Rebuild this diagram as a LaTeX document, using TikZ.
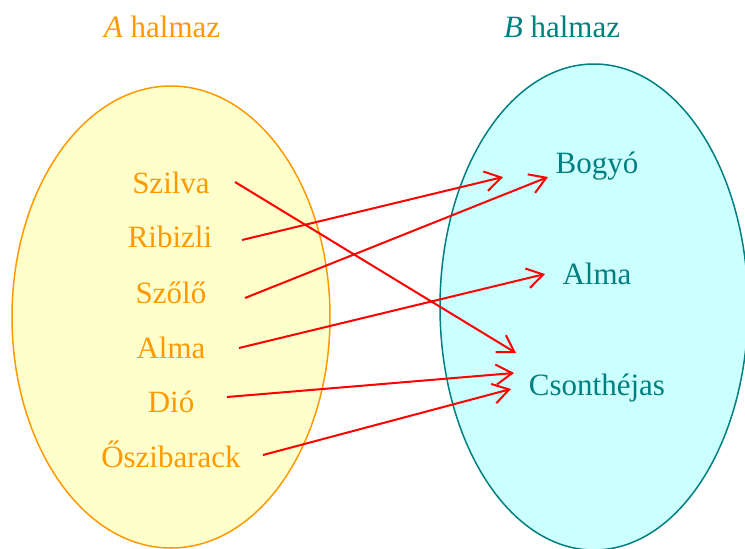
\documentclass[tikz,border=0pt]{standalone}
\usepackage{fontspec}
\setmainfont{Liberation Serif}
\usetikzlibrary{arrows.meta}
\definecolor{setAline}{HTML}{FF9900}
\definecolor{setAfill}{HTML}{FFFFCC}
\definecolor{setBline}{HTML}{008080}
\definecolor{setBfill}{HTML}{CCFFFF}
\definecolor{maparrow}{HTML}{FF0000}
\tikzset{
  atext/.style={text=setAline, font=\fontsize{31}{37}\selectfont, anchor=base, inner sep=0pt},
  btext/.style={text=setBline, font=\fontsize{31}{37}\selectfont, anchor=base, inner sep=0pt},
  setA/.style={draw=setAline, fill=setAfill, line width=1.5pt},
  setB/.style={draw=setBline, fill=setBfill, line width=1.5pt},
  maparr/.style={draw=maparrow, line width=2pt, -{Straight Barb[length=16pt,width=20pt]}}
}
\begin{document}
\begin{tikzpicture}[x=1pt,y=-1pt]
\useasboundingbox (0,0) rectangle (745,549);
\begin{scope}
  \clip (0,0) rectangle (745,549);
  \path[setA] (171,317) ellipse [x radius=159, y radius=231];
  \path[setB] (594,307) ellipse [x radius=154, y radius=243];
\end{scope}

% set titles
\node[atext] (titleA) at (162,37) {\textit{A} halmaz};
\node[btext] (titleB) at (562,37) {\textit{B} halmaz};

% elements of A
\node[atext] (szilva)  at (171,193) {Szilva};
\node[atext] (ribizli) at (170,247) {Ribizli};
\node[atext] (szolo)   at (171,303) {Szőlő};
\node[atext] (almaA)   at (171,358) {Alma};
\node[atext] (dio)     at (171,412) {Dió};
\node[atext] (oszi)    at (171,467) {Őszibarack};

% elements of B
\node[btext] (bogyo)  at (597,173) {Bogyó};
\node[btext] (almaB)  at (597,284) {Alma};
\node[btext] (csont)  at (597,395) {Csonthéjas};

% arrow ends
\coordinate (s1) at (235,182);
\coordinate (s2) at (242,240);
\coordinate (s3) at (245,298);
\coordinate (s4) at (239,348);
\coordinate (s5) at (227,397);
\coordinate (s6) at (263,455);
\coordinate (t1) at (516,353);
\coordinate (t2) at (503,177);
\coordinate (t3) at (548,177);
\coordinate (t4) at (545,274);
\coordinate (t5) at (514,373);
\coordinate (t6) at (511,389);

\draw[maparr] (s1) -- (t1);
\draw[maparr] (s2) -- (t2);
\draw[maparr] (s3) -- (t3);
\draw[maparr] (s4) -- (t4);
\draw[maparr] (s5) -- (t5);
\draw[maparr] (s6) -- (t6);
\end{tikzpicture}
\end{document}
